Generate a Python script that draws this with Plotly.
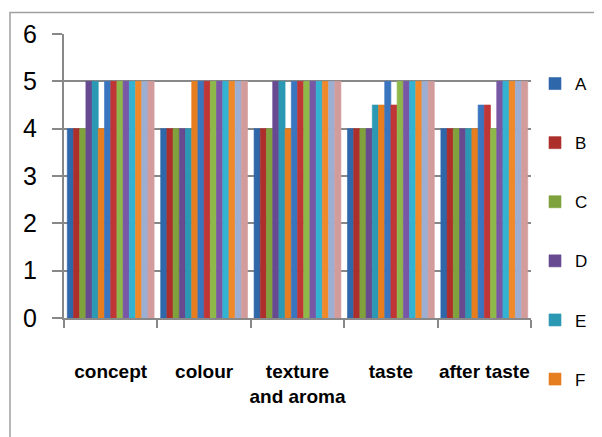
import plotly.graph_objects as go

categories = ["concept", "colour", "texture and aroma", "taste", "after taste"]
tick_labels = ["concept", "colour", "texture<br>and aroma", "taste", "after taste"]
series_names = ["A", "B", "C", "D", "E", "F", "G", "H", "I", "J", "K", "L", "M", "N"]

A = [4, 4, 4, 4, 4]
B = [4, 4, 4, 4, 4]
C = [4, 4, 4, 4, 4]
D = [5, 4, 5, 4, 4]
E = [5, 4, 5, 4.5, 4]
F = [4, 5, 4, 4.5, 4]
G = [5, 5, 5, 5, 4.5]
H = [5, 5, 5, 4.5, 4.5]
I = [5, 5, 5, 5, 4]
J = [5, 5, 5, 5, 5]
K = [5, 5, 5, 5, 5]
L = [5, 5, 5, 5, 5]
M = [5, 5, 5, 5, 5]
N = [5, 5, 5, 5, 5]
series_values = [A, B, C, D, E, F, G, H, I, J, K, L, M, N]
y_ticks = [0, 1, 2, 3, 4, 5, 6]

colors = ["#2f67ab", "#ad2f2c", "#7fa23c", "#674a90", "#2b98b4", "#e67d1f",
          "#3a75c0", "#c03535", "#8fb84b", "#7857a6", "#33b2d2", "#f0892a",
          "#9cafd3", "#d39c9c"]

fig = go.Figure()
for i, (name, vals) in enumerate(zip(series_names, series_values)):
    fig.add_trace(go.Bar(
        name=name, x=categories, y=vals,
        marker=dict(color=colors[i], line=dict(width=0.6, color=colors[i])),
        showlegend=i < 6, legendgroup=name,
    ))

# page body has an 8px margin, so screen = figure + 8
OFF = 8
W, H_ = 602, 437
L_, R_, T_, B_ = 64 - OFF, W - (531 - OFF), 34 - OFF, H_ - (318 - OFF)
pw = W - L_ - R_
ph = H_ - T_ - B_

def px_x(p):
    return (p - OFF - L_) / pw

def px_y(p):
    return (H_ - B_ - (p - OFF)) / ph

fig.update_layout(
    width=W, height=H_,
    margin=dict(l=L_, r=R_, t=T_, b=B_, pad=0),
    paper_bgcolor="white", plot_bgcolor="white",
    barmode="group", bargap=0.07, bargroupgap=0,
    font=dict(family="Liberation Sans", color="black"),
    legend=dict(
        x=px_x(535), xanchor="left", y=px_y(66), yanchor="top",
        font=dict(size=17, family="Liberation Sans"),
        tracegroupgap=34, bgcolor="rgba(0,0,0,0)", maxheight=600,
    ),
    shapes=[dict(type="rect", xref="paper", yref="paper",
                 x0=px_x(10), x1=px_x(660), y0=px_y(500), y1=px_y(12.5),
                 line=dict(color="#a0a0a0", width=1.5), layer="below")],
)
fig.update_xaxes(
    tickmode="array", tickvals=categories, ticktext=tick_labels, tickangle=0,
    tickson="boundaries", ticks="outside", ticklen=8, tickcolor="#888888", tickwidth=2,
    showline=True, linecolor="#888888", linewidth=2, automargin=False,
    tickfont=dict(size=19, family="Liberation Sans", weight="bold"),
    ticklabelstandoff=35, showgrid=False,
)
fig.update_yaxes(
    range=[0, 6], tickvals=y_ticks, automargin=False,
    ticks="outside", ticklen=10, tickcolor="#888888", tickwidth=2,
    showline=True, linecolor="#888888", linewidth=2,
    showgrid=True, gridcolor="#888888", gridwidth=2,
    tickfont=dict(size=25, family="Liberation Sans"),
    ticklabelstandoff=10, zeroline=False,
)
fig.write_html("out.html")
